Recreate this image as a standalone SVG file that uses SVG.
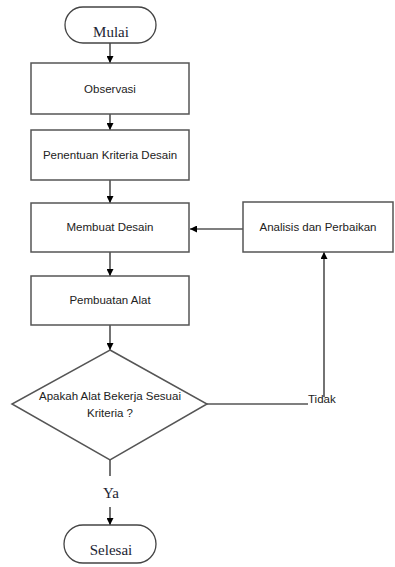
<svg xmlns="http://www.w3.org/2000/svg" width="395" height="567" viewBox="0 0 395 567">
<defs>
<marker id="ah" viewBox="0 0 10 10" refX="10" refY="5" markerWidth="7" markerHeight="7" markerUnits="userSpaceOnUse" orient="auto">
<path d="M0,0 L10,5 L0,10 z" fill="#000"/>
</marker>
</defs>
<style>
.box{fill:#fff;stroke:#555;stroke-width:1.5}
.term{fill:#fff;stroke:#444;stroke-width:1.3}
.t{font-family:"Liberation Sans",Arial,sans-serif;font-size:11.5px;fill:#222;text-anchor:middle}
.s{font-family:"Liberation Serif","Times New Roman",serif;font-size:15px;fill:#1c2433;text-anchor:middle}
.c{fill:none;stroke:#000;stroke-width:1.1}
</style>
<rect width="395" height="567" fill="#fff"/>
<g id="connectors">
<line class="c" x1="110" y1="43" x2="110" y2="63" marker-end="url(#ah)"/>
<line class="c" x1="110" y1="114" x2="110" y2="130" marker-end="url(#ah)"/>
<line class="c" x1="110" y1="180" x2="110" y2="203" marker-end="url(#ah)"/>
<line class="c" x1="110" y1="252" x2="110" y2="276" marker-end="url(#ah)"/>
<line class="c" x1="110" y1="325" x2="110" y2="350" marker-end="url(#ah)"/>
<line class="c" x1="243" y1="229" x2="190" y2="229" marker-end="url(#ah)"/>
<polyline class="c" points="207,404 308,404"/>
<line class="c" x1="324" y1="397" x2="324" y2="252" marker-end="url(#ah)"/>
<line class="c" x1="110" y1="460" x2="110" y2="476"/>
<line class="c" x1="110" y1="507" x2="110" y2="525" marker-end="url(#ah)"/>
<text class="s" x="111" y="498">Ya</text>
<text class="t" x="308" y="403" style="text-anchor:start">Tidak</text>
</g>
<g id="mulai">
<rect class="term" x="65" y="7" width="91" height="36" rx="18"/>
<text class="s" x="111" y="37">Mulai</text>
</g>
<g id="observasi">
<rect class="box" x="31" y="63" width="158" height="51"/>
<text class="t" x="110" y="93">Observasi</text>
</g>
<g id="penentuan">
<rect class="box" x="31" y="130" width="158" height="50"/>
<text class="t" x="110" y="159">Penentuan Kriteria Desain</text>
</g>
<g id="membuat">
<rect class="box" x="31" y="203" width="158" height="49"/>
<text class="t" x="110" y="231">Membuat Desain</text>
</g>
<g id="analisis">
<rect class="box" x="243" y="202" width="150" height="50"/>
<text class="t" x="318" y="231">Analisis dan Perbaikan</text>
</g>
<g id="pembuatan">
<rect class="box" x="31" y="276" width="158" height="49"/>
<text class="t" x="110" y="304">Pembuatan Alat</text>
</g>
<g id="keputusan">
<polygon class="box" points="110,350 207,404 110,460 12,404"/>
<text class="t" x="110" y="400">Apakah Alat Bekerja Sesuai</text>
<text class="t" x="110" y="417">Kriteria ?</text>
</g>
<g id="selesai">
<rect class="term" x="64" y="525" width="92" height="38" rx="19"/>
<text class="s" x="111" y="555">Selesai</text>
</g>
</svg>
